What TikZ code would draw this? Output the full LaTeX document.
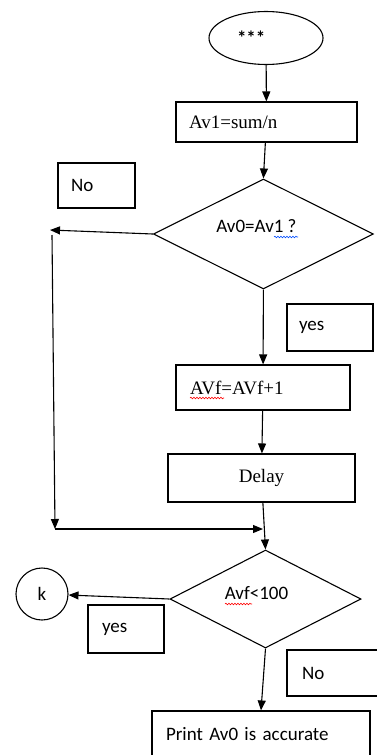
\documentclass[tikz,border=0pt]{standalone}
\usepackage{fontspec}
\setmainfont{Liberation Serif}
\newfontfamily\calibri{Carlito}
\usetikzlibrary{arrows.meta,shapes.geometric,decorations.pathmorphing}
\tikzset{
  box/.style={draw,line width=1.1pt,inner ysep=0pt,inner xsep=#1,align=left},
  sans/.style={font=\calibri\fontsize{19}{22}\selectfont},
  arr/.style={line width=1.1pt,-{Triangle[length=10pt,width=8pt]}},
  wavy/.style={line width=0.6pt,decorate,decoration={snake,segment length=3pt,amplitude=0.8pt}}
}
\begin{document}
\begin{tikzpicture}[x=1pt,y=-1pt,font=\fontsize{19}{22}\selectfont]
\useasboundingbox(0,0)rectangle(377,755);
\node[draw,ellipse,sans,line width=1.1pt,inner sep=0pt,minimum width=114pt,minimum height=53pt,text width=58pt,align=left](start)at(266,38){\bfseries***};
\node[box=13pt,text width=155pt,minimum height=40pt](av1)at(266.5,122){Av1=sum/n};
\node[draw,diamond,line width=1.1pt,minimum width=220pt,minimum height=110pt,
  label={[sans,xshift=-7pt,yshift=8pt]center:Av0=Av1 ?}](dec1)at(263.4,234){};
\node[box=14pt,text width=146pt,minimum height=45pt](avf)at(263,387.5){AVf=AVf+1};
\node[box=0pt,text width=187pt,align=center,minimum height=48pt](delay)at(261.5,478){Delay};
\node[draw,diamond,line width=1.1pt,minimum width=191pt,minimum height=98pt,
  label={[sans,xshift=-9pt,yshift=6pt]center:Avf<100}](dec2)at(265.5,599){};
\node[draw,circle,sans,line width=1.1pt,inner sep=0pt,minimum size=52pt](k)at(42,594){k};
\node[box=14pt,sans,text width=190pt,minimum height=46pt](print)at(261,734){Print Av0 is accurate};
\foreach \n/\x/\y/\p/\w/\h/\t in{no1/96.5/185.5/13/51/45/No,yes1/330/327.5/12/62/47/yes,yes2/126/629/14/48/48/yes,no2/334.5/673/15/65/46/No}
  \node[box=\p pt,sans,text width=\w pt,minimum height=\h pt](\n)at(\x,\y){\t};
\coordinate(nl)at(50,230);
\coordinate(vt)at(52,235);
\coordinate(vb)at(55,529);
\coordinate(jn)at(263,529);
\draw[arr](start)--(av1);
\draw[arr](av1)--(dec1.north);
\draw[arr](dec1.west)--(nl);
\draw[arr](vt)--(vb);
\draw[arr](vb)--(jn);
\draw[arr](dec1.south)--(avf);
\draw[arr](avf)--(delay);
\draw[arr](delay)--(dec2.north);
\draw[arr](dec2.west)--(k);
\draw[arr](dec2.south)--(print.north);
\draw[wavy,blue!70!cyan](274,237)--(298,237);
\draw[wavy,red](190,398)--(224,398);
\draw[wavy,red](225,604)--(252,604);
\end{tikzpicture}
\end{document}
